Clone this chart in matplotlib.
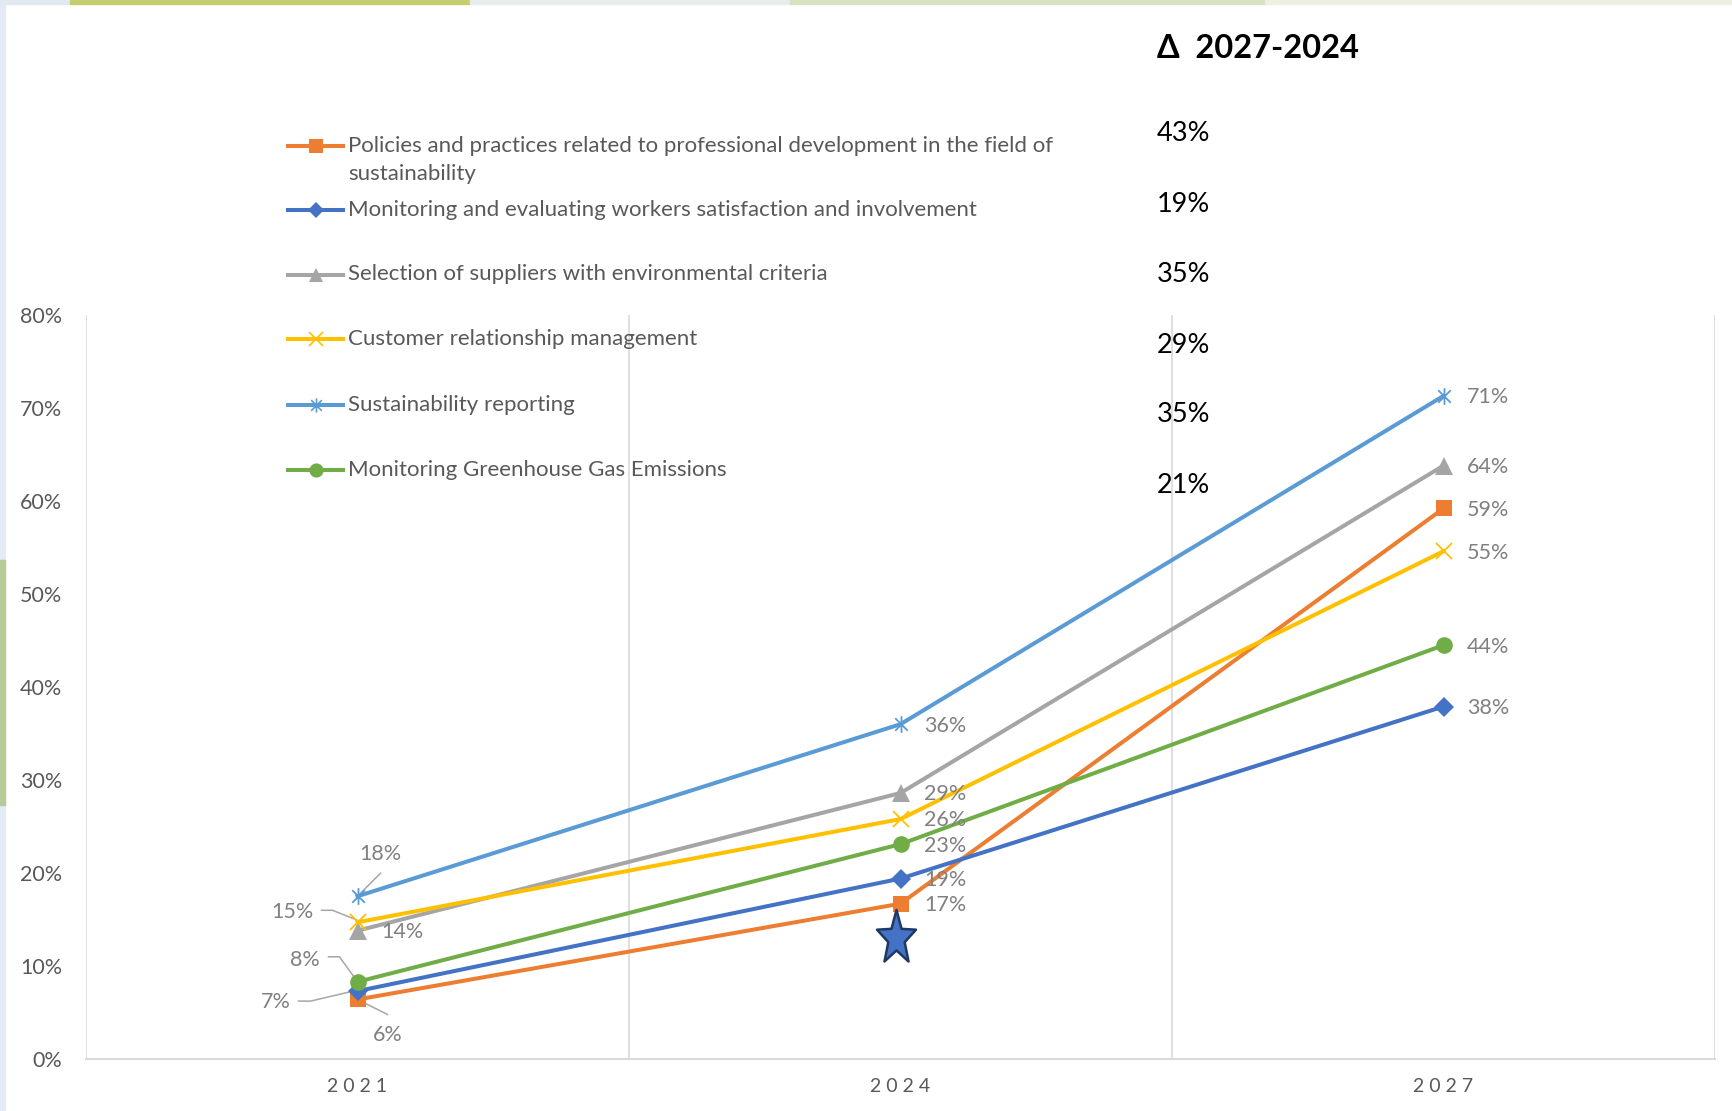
import numpy as np
import matplotlib
matplotlib.use("Agg")
import matplotlib.pyplot as plt
from matplotlib.lines import Line2D
from matplotlib.patches import Rectangle
from matplotlib.path import Path
from matplotlib.transforms import offset_copy

plt.rcParams['font.family'] = ['Lato', 'DejaVu Sans']

# ---- data ----
years = ['2021', '2024', '2027']
series_names = [
    "Policies and practices related to professional development in the field of\nsustainability",
    "Monitoring and evaluating workers satisfaction and involvement",
    "Selection of suppliers with environmental criteria",
    "Customer relationship management",
    "Sustainability reporting",
    "Monitoring Greenhouse Gas Emissions",
]
policies = [0.064, 0.167, 0.592]
workers = [0.073, 0.194, 0.379]
suppliers = [0.138, 0.286, 0.638]
customer = [0.147, 0.258, 0.546]
reporting = [0.175, 0.360, 0.713]
ghg = [0.083, 0.231, 0.445]
all_series = [policies, workers, suppliers, customer, reporting, ghg]
delta_labels = ['43%', '19%', '35%', '29%', '35%', '21%']
delta_title = 'Δ  2027-2024'
y_ticks = [0, 0.1, 0.2, 0.3, 0.4, 0.5, 0.6, 0.7, 0.8]

colors = ['#ED7D31', '#4472C4', '#A5A5A5', '#FFC000', '#5B9BD5', '#70AD47']

# asterisk marker (vertical + x)
ast = Path([(0, -1), (0, 1), (-0.75, -0.75), (0.75, 0.75), (-0.75, 0.75), (0.75, -0.75)],
           [Path.MOVETO, Path.LINETO, Path.MOVETO, Path.LINETO, Path.MOVETO, Path.LINETO])
markers = ['s', 'D', '^', 'x', ast, 'o']
msizes = [12, 10, 12.5, 12, 12, 12]

# tall star shape for the highlight
ang = np.pi / 2 + np.arange(10) * np.pi / 5
rad = np.where(np.arange(10) % 2 == 0, 1.0, 0.42)
star_verts = np.column_stack([rad * np.cos(ang) * 0.72, rad * np.sin(ang)])
star = Path(np.vstack([star_verts, star_verts[:1]]), closed=True)

W, H = 1732, 1111
fig = plt.figure(figsize=(W / 100, H / 100), dpi=100)


def px(x, y):
    return x / W, 1 - y / H


# background decorations
fig.patches.append(Rectangle((0, 0), 5 / W, 1, transform=fig.transFigure, color='#E3EBF6', zorder=0))
fig.patches.append(Rectangle((0, 1 - 805 / H), 5 / W, 245 / H, transform=fig.transFigure, color='#B5CB98', zorder=0))
top_strips = [(0, 70, '#E2EAF0'), (70, 470, '#C3CF6F'), (470, 790, '#E6EDEC'),
              (790, 1265, '#D7E2C1'), (1265, 1732, '#EBF0E1')]
for x0, x1, c in top_strips:
    fig.patches.append(Rectangle((x0 / W, 1 - 4 / H), (x1 - x0) / W, 4 / H,
                                 transform=fig.transFigure, color=c, zorder=0))

ax = fig.add_axes([86 / W, 1 - 1059 / H, (1715 - 86) / W, (1059 - 315) / H])
ax.set_xlim(-0.5, 2.5)
ax.set_ylim(0, 0.8)
x = np.arange(len(years))

for b in [-0.5, 0.5, 1.5, 2.5]:
    ax.axvline(b, color='#D9D9D9', lw=1.2, zorder=1)
for s in ['top', 'right', 'left']:
    ax.spines[s].set_visible(False)
ax.spines['bottom'].set_color('#D9D9D9')
ax.spines['bottom'].set_linewidth(1.4)

for vals, c, m, ms in zip(all_series, colors, markers, msizes):
    ax.plot(x, vals, color=c, lw=2.9, marker=m, ms=ms, mew=1.3 if m in ('x',) or m is ast else 0,
            mec=c, mfc=c, zorder=3, solid_joinstyle='round')

ax.set_yticks(y_ticks)
ax.set_yticklabels([f'{int(round(v * 100))}%' for v in y_ticks], fontsize=15.5, color='#595959')
ax.set_xticks(x)
ax.set_xticklabels([' '.join(y) for y in years], fontsize=14, color='#595959')
ax.tick_params(axis='y', length=0, pad=17)
ax.tick_params(axis='x', length=0, pad=14)

lab_col = '#808080'
# labels at 2024 and 2027: right of the marker
for vals in all_series:
    for i in (1, 2):
        ax.annotate(f'{int(round(vals[i] * 100))}%', (x[i], vals[i]), xytext=(17, -1),
                    textcoords='offset points', va='center', ha='left', fontsize=15.5,
                    color=lab_col, zorder=4)

# labels at 2021 with leader lines (offsets in pixels, y up)
lab2021 = [
    (policies, (30, -36), [(0, 0), (30, -15)]),
    (workers, (-82, -11), [(0, 1), (-47, -10), (-59, -10)]),
    (suppliers, (45, -1), None),
    (customer, (-65, 10), [(0, 2), (-25, 12), (-36, 12)]),
    (reporting, (23, 42), [(0, 0), (23, 23)]),
    (ghg, (-53, 22), [(0, 0), (-18, 25), (-29, 25)]),
]
for vals, (dx, dy), leader in lab2021:
    tr = offset_copy(ax.transData, fig=fig, x=dx, y=dy, units='dots')
    ax.text(x[0], vals[0], f'{int(round(vals[0] * 100))}%', transform=tr, ha='center', va='center',
            fontsize=15.5, color=lab_col, zorder=4)
    if leader:
        p0 = ax.transData.transform((x[0], vals[0]))
        inv = ax.transData.inverted().transform(p0 + np.array(leader))
        ax.plot(inv[:, 0], inv[:, 1], color='#A6A6A6', lw=1.1, zorder=2)

# highlight star near 2024
star_pos = (0.992, 0.1297)
ax.plot(*star_pos, marker=star, ms=41, mfc='#4472C4', mec='#1F3864', mew=1.8, zorder=5, ls='none')

# legend drawn by hand
rows_y = [145.5, 209.5, 274.5, 339.5, 404.5, 470.0]
for name, c, m, ms, ry in zip(series_names, colors, markers, msizes, rows_y):
    x0, y0 = px(288, ry)
    x1, _ = px(343, ry)
    xm, _ = px(315.5, ry)
    fig.add_artist(Line2D([x0, x1], [y0, y0], color=c, lw=2.9, transform=fig.transFigure))
    fig.add_artist(Line2D([xm], [y0], marker=m, ms=ms * 0.85, color=c, mfc=c, mec=c,
                          mew=1.2 if (m == 'x' or m is ast) else 0, transform=fig.transFigure))
    for k, ln in enumerate(name.split('\n')):
        tx, ty = px(348, ry + 29 * k)
        fig.text(tx, ty, ln, ha='left', va='center', fontsize=16, color='#595959')

# delta column
tx, ty = px(1157, 49)
fig.text(tx, ty, delta_title, ha='left', va='center', fontsize=23.5, fontweight='bold', color='black')
delta_y = [133.5, 204.0, 274.5, 345.5, 415.0, 485.5]
for lab, dyy in zip(delta_labels, delta_y):
    tx, ty = px(1157, dyy)
    fig.text(tx, ty, lab, ha='left', va='center', fontsize=19.5, color='black')

fig.savefig('out.png', dpi=100)
